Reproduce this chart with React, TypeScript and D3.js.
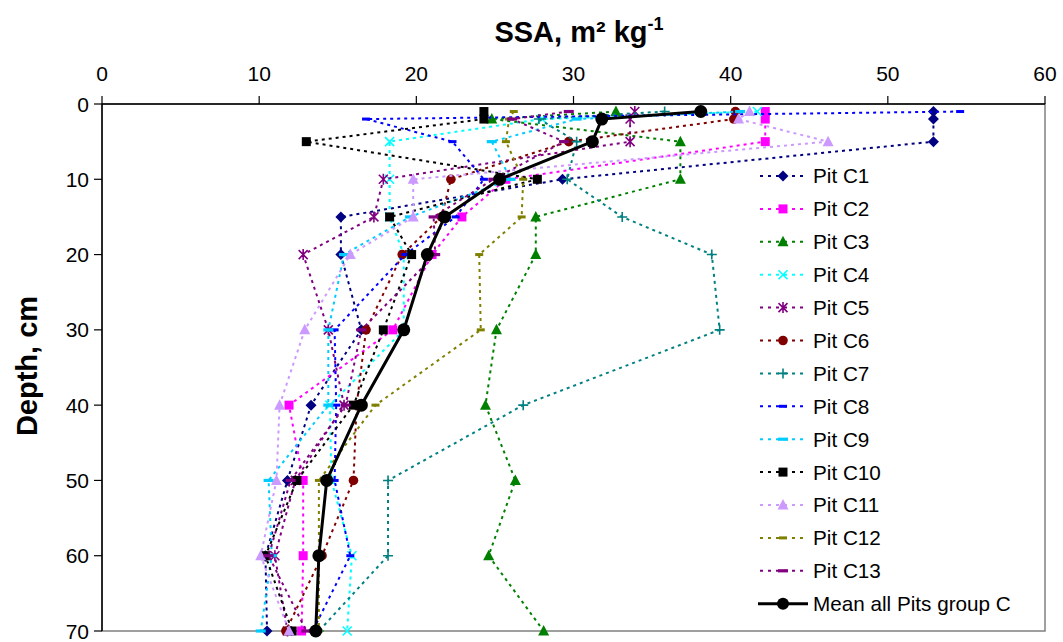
import React from "react";
import * as d3 from "d3";

const depths = [1, 2, 5, 10, 15, 20, 30, 40, 50, 60, 70];
const xTicks = [0, 10, 20, 30, 40, 50, 60];
const yTicks = [0, 10, 20, 30, 40, 50, 60, 70];
const seriesNames = ["Pit C1", "Pit C2", "Pit C3", "Pit C4", "Pit C5", "Pit C6", "Pit C7", "Pit C8", "Pit C9", "Pit C10", "Pit C11", "Pit C12", "Pit C13"];
const pitC1 = [52.9, 52.9, 52.9, 29.3, 15.2, 15.2, 16.5, 13.3, 11.8, 10.4, 10.5];
const pitC2 = [42.2, 42.2, 42.2, 25.7, 22.9, 21.0, 18.5, 11.9, 12.8, 12.8, 12.7];
const pitC3 = [32.7, 24.8, 36.8, 36.8, 27.6, 27.6, 25.1, 24.4, 26.3, 24.6, 28.1];
const pitC4 = [41.7, 28.0, 18.3, 18.3, 18.3, 19.2, 19.2, 14.5, 14.6, 15.9, 15.6];
const pitC5 = [33.9, 33.6, 33.6, 17.9, 17.3, 12.8, 14.4, 15.4, 12.3, 11.0, 11.8];
const pitC6 = [40.3, 40.2, 29.7, 22.2, 21.6, 19.1, 16.8, 16.2, 16.0, 14.0, 11.7];
const pitC7 = [35.8, 27.8, 30.2, 29.6, 33.1, 38.8, 39.3, 26.8, 18.2, 18.2, 13.8];
const pitC8 = [54.6, 16.8, 22.3, 24.3, 22.5, 19.3, 14.8, 14.9, 14.8, 15.8, 13.4];
const pitC9 = [40.6, 30.2, 24.8, 26.0, 19.6, 15.4, 14.4, 14.4, 10.6, 10.8, 10.1];
const pitC10 = [24.3, 24.3, 13.0, 27.7, 18.3, 19.7, 17.9, 16.0, 12.4, 10.4, 12.1];
const pitC11 = [41.2, 40.5, 46.2, 19.8, 19.8, 15.8, 12.9, 11.3, 11.1, 10.1, 11.9];
const pitC12 = [26.2, 25.9, 25.7, 26.8, 26.7, 24.0, 24.1, 17.4, 13.8, 13.8, 13.8];
const pitC13 = [29.7, 26.1, 29.4, 24.9, 21.1, 21.2, 16.5, 15.5, 12.0, 10.6, 13.0];
const meanAll = [38.1, 31.8, 31.2, 25.3, 21.8, 20.7, 19.2, 16.5, 14.3, 13.8, 13.6];
const meanName = "Mean all Pits group C";

const seriesValues = [pitC1, pitC2, pitC3, pitC4, pitC5, pitC6, pitC7, pitC8, pitC9, pitC10, pitC11, pitC12, pitC13];
const colors = ["#000080", "#FF00FF", "#008000", "#00FFFF", "#800080", "#800000", "#008080", "#0000FF", "#00CCFF", "#000000", "#CC99FF", "#808000", "#800080"];
const markers = ["diamond", "square", "triangle", "x", "star", "circle", "plus", "dashS", "dashL", "square", "triangle", "dashS", "dashL"];

const W = 1063, H = 642;
const x = d3.scaleLinear().domain([0, 60]).range([102, 1045]);
const y = d3.scaleLinear().domain([0, 70]).range([104, 631]);

function Marker({ type, cx, cy, color }: { type: string; cx: number; cy: number; color: string }) {
  switch (type) {
    case "diamond":
      return <path d={`M${cx},${cy - 5.5}L${cx + 5.5},${cy}L${cx},${cy + 5.5}L${cx - 5.5},${cy}Z`} fill={color} />;
    case "square":
      return <rect x={cx - 4.5} y={cy - 4.5} width={9} height={9} fill={color} />;
    case "triangle":
      return <path d={`M${cx},${cy - 6}L${cx + 5.5},${cy + 4.5}L${cx - 5.5},${cy + 4.5}Z`} fill={color} />;
    case "x":
      return <path d={`M${cx - 4.5},${cy - 4.5}L${cx + 4.5},${cy + 4.5}M${cx + 4.5},${cy - 4.5}L${cx - 4.5},${cy + 4.5}`} stroke={color} strokeWidth={1.6} fill="none" />;
    case "star":
      return <path d={`M${cx - 4.5},${cy - 4.5}L${cx + 4.5},${cy + 4.5}M${cx + 4.5},${cy - 4.5}L${cx - 4.5},${cy + 4.5}M${cx},${cy - 5.5}L${cx},${cy + 5.5}`} stroke={color} strokeWidth={1.6} fill="none" />;
    case "circle":
      return <circle cx={cx} cy={cy} r={4.8} fill={color} />;
    case "plus":
      return <path d={`M${cx - 5},${cy}L${cx + 5},${cy}M${cx},${cy - 5}L${cx},${cy + 5}`} stroke={color} strokeWidth={1.6} fill="none" />;
    case "dashS":
      return <rect x={cx - 4} y={cy - 1.5} width={8} height={3} fill={color} />;
    case "dashL":
      return <rect x={cx - 5} y={cy - 1.6} width={10} height={3.2} fill={color} />;
    default:
      return null;
  }
}

export default function App() {
  const line = d3.line<[number, number]>().x(d => x(d[0])).y(d => y(d[1]));
  const legendX0 = 760, legendX1 = 806, legendTextX = 813, legendY0 = 176, legendStep = 32.9;
  return (
    <svg width={W} height={H} style={{ position: "absolute", left: 0, top: 0, background: "#fff" }} fontFamily="Arial, 'Liberation Sans', sans-serif">
      <rect x={0} y={0} width={W} height={H} fill="#fff" />
      {/* plot area frame */}
      <rect x={x(0)} y={y(0)} width={x(60) - x(0)} height={y(70) - y(0)} fill="none" stroke="#808080" strokeWidth={1.5} />
      {/* axes */}
      <line x1={x(0)} x2={x(60)} y1={y(0)} y2={y(0)} stroke="#000" strokeWidth={1.5} />
      <line x1={x(0)} x2={x(0)} y1={y(0)} y2={y(70)} stroke="#000" strokeWidth={1.5} />
      {xTicks.map(t => (
        <g key={"xt" + t}>
          <line x1={x(t)} x2={x(t)} y1={y(0)} y2={y(0) - 8} stroke="#000" strokeWidth={1.2} />
          <text x={x(t)} y={81} textAnchor="middle" fontSize={21}>{t}</text>
        </g>
      ))}
      {yTicks.map(t => (
        <g key={"yt" + t}>
          <line x1={x(0) - 8} x2={x(0)} y1={y(t)} y2={y(t)} stroke="#000" strokeWidth={1.2} />
          <text x={89} y={y(t)} dy="0.36em" textAnchor="end" fontSize={21}>{t}</text>
        </g>
      ))}
      <text x={579} y={42} textAnchor="middle" fontSize={29} fontWeight="bold">
        SSA, m² kg<tspan fontSize={18} dy={-12}>-1</tspan>
      </text>
      <text transform="translate(37,366) rotate(-90)" textAnchor="middle" fontSize={29} fontWeight="bold">Depth, cm</text>

      {/* series */}
      {seriesValues.map((vals, i) => {
        const pts: [number, number][] = vals.map((v, j) => [v, depths[j]]);
        return (
          <g key={"s" + i}>
            <path d={line(pts) || ""} fill="none" stroke={colors[i]} strokeWidth={2} strokeDasharray="3,4" />
            {pts.map((p, j) => <Marker key={j} type={markers[i]} cx={x(p[0])} cy={y(p[1])} color={colors[i]} />)}
          </g>
        );
      })}
      {/* mean */}
      <g>
        <path d={line(meanAll.map((v, j) => [v, depths[j]] as [number, number])) || ""} fill="none" stroke="#000" strokeWidth={3} />
        {meanAll.map((v, j) => <circle key={j} cx={x(v)} cy={y(depths[j])} r={6.5} fill="#000" />)}
      </g>

      {/* legend */}
      {seriesNames.map((n, i) => {
        const ly = legendY0 + i * legendStep;
        return (
          <g key={"l" + i}>
            <line x1={legendX0} x2={legendX1} y1={ly} y2={ly} stroke={colors[i]} strokeWidth={2} strokeDasharray="3,5" />
            <Marker type={markers[i]} cx={(legendX0 + legendX1) / 2} cy={ly} color={colors[i]} />
            <text x={legendTextX} y={ly} dy="0.36em" fontSize={20.7}>{n}</text>
          </g>
        );
      })}
      {(() => {
        const ly = legendY0 + 13 * legendStep;
        return (
          <g>
            <line x1={758} x2={808} y1={ly} y2={ly} stroke="#000" strokeWidth={3} />
            <circle cx={783} cy={ly} r={6} fill="#000" />
            <text x={legendTextX} y={ly} dy="0.36em" fontSize={20.7}>{meanName}</text>
          </g>
        );
      })()}
    </svg>
  );
}
